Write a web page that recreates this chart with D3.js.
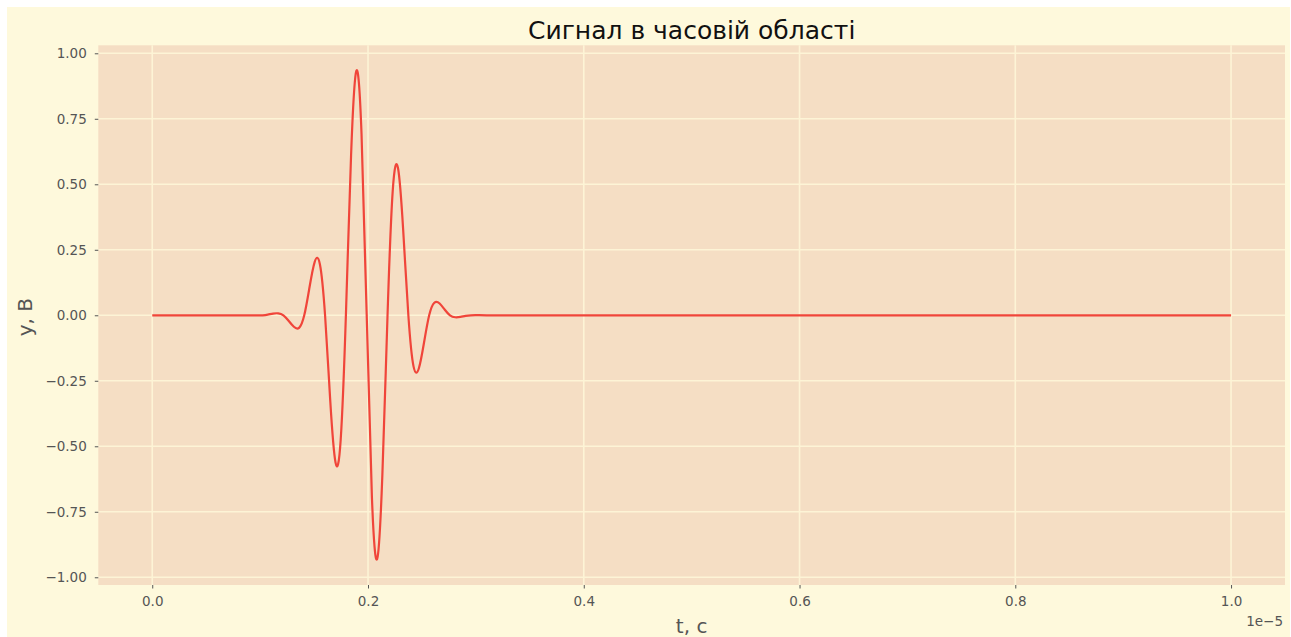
<!DOCTYPE html>
<html>
<head>
<meta charset="utf-8">
<script src="https://cdn.jsdelivr.net/npm/d3@7"></script>
<style>
  html, body { margin: 0; padding: 0; background: #ffffff; }
  svg { display: block; }
  text { font-family: "DejaVu Sans", sans-serif; }
</style>
</head>
<body>
<svg id="chart" width="1291" height="637"></svg>
<script>
// ---- data (t in units of 1e-5 s, y in volts) ----
const tValues = [0.000, 0.020, 0.040, 0.060, 0.080, 0.0927, 0.0975, 0.1023, 0.1071, 0.1120, 0.1168, 0.1216, 0.1264,
  0.1313, 0.1361, 0.1409, 0.1457, 0.1506, 0.1554, 0.1602, 0.1650, 0.1699, 0.1747,
  0.1795, 0.1843, 0.1892, 0.1940, 0.1988, 0.2036, 0.2085, 0.2133, 0.2181, 0.2229,
  0.2278, 0.2326, 0.2374, 0.2422, 0.2471, 0.2519, 0.2567, 0.2615, 0.2664, 0.2712,
  0.2760, 0.2808, 0.2857, 0.2905, 0.2953, 0.3001, 0.310, 0.330, 0.360, 0.400,
  0.500, 0.600, 0.700, 0.800, 0.900, 1.000];
const yValues = [0.000, 0.000, 0.000, 0.000, 0.000, -0.0005, -0.0007, 0.000, 0.0025, 0.0066, 0.0075, 0.000, -0.021,
  -0.044, -0.048, 0.000, 0.105, 0.204, 0.195, 0.000, -0.326, -0.562, -0.474,
  0.000, 0.610, 0.933, 0.692, 0.000, -0.692, -0.930, -0.610, 0.000, 0.474,
  0.562, 0.326, 0.000, -0.195, -0.203, -0.105, 0.000, 0.048, 0.045, 0.021,
  0.000, -0.0075, -0.0062, -0.0025, 0.000, 0.0007, 0.000, 0.000, 0.000, 0.000,
  0.000, 0.000, 0.000, 0.000, 0.000, 0.000];
const xTicks = [0.0, 0.2, 0.4, 0.6, 0.8, 1.0];
const xTickLabels = ["0.0", "0.2", "0.4", "0.6", "0.8", "1.0"];
const yTicks = [-1.00, -0.75, -0.50, -0.25, 0.00, 0.25, 0.50, 0.75, 1.00];
const titleText = "Сигнал в часовій області";
const xLabelText = "t, c";
const yLabelText = "y, B";
const offsetText = "1e\u22125";

const signal = tValues.map((t, i) => ({ t, y: yValues[i] }));

// ---- layout ----
const svg = d3.select("#chart");
const plot = { left: 98.3, right: 1285, top: 45.3, bottom: 585 };

svg.append("rect").attr("x", 7).attr("y", 7).attr("width", 1283).attr("height", 630)
  .attr("fill", "#fef9dc");

const x = d3.scaleLinear().domain([-0.05, 1.05]).range([plot.left, plot.right]);
const y = d3.scaleLinear().domain([-1.0295, 1.0305]).range([plot.bottom, plot.top]);

svg.append("rect")
  .attr("x", plot.left).attr("y", plot.top)
  .attr("width", plot.right - plot.left).attr("height", plot.bottom - plot.top)
  .attr("fill", "#f5dec4");

// grid
const grid = svg.append("g").attr("stroke", "#fdf4d6").attr("stroke-width", 1.6);
grid.selectAll("line.gx").data(xTicks).join("line")
  .attr("x1", d => x(d)).attr("x2", d => x(d))
  .attr("y1", plot.top).attr("y2", plot.bottom);
grid.selectAll("line.gy").data(yTicks).join("line")
  .attr("y1", d => y(d)).attr("y2", d => y(d))
  .attr("x1", plot.left).attr("x2", plot.right);

// axes
const xAxis = d3.axisBottom(x).tickValues(xTicks)
  .tickFormat((d, i) => xTickLabels[i]).tickSize(3.5).tickPadding(8);
const yAxis = d3.axisLeft(y).tickValues(yTicks)
  .tickFormat(d => d3.format(".2f")(d).replace("-", "\u2212")).tickSize(3.5).tickPadding(8);

const gx = svg.append("g").attr("transform", `translate(0,${plot.bottom})`).call(xAxis);
const gy = svg.append("g").attr("transform", `translate(${plot.left},0)`).call(yAxis);
[gx, gy].forEach(g => {
  g.select(".domain").remove();
  g.selectAll(".tick line").attr("stroke", "#555555").attr("stroke-width", 1);
  g.selectAll(".tick text").attr("fill", "#555555").attr("font-size", 13.5)
    .attr("font-family", "DejaVu Sans, sans-serif");
});

// signal line
const line = d3.line().x(d => x(d.t)).y(d => y(d.y)).curve(d3.curveNatural);
svg.append("path").datum(signal)
  .attr("d", line)
  .attr("fill", "none")
  .attr("stroke", "#f0453a")
  .attr("stroke-width", 2.2)
  .attr("stroke-linejoin", "round");

// title & labels
svg.append("text").attr("x", (plot.left + plot.right) / 2).attr("y", 39)
  .attr("text-anchor", "middle").attr("font-size", 25).attr("fill", "#111")
  .text(titleText);
svg.append("text").attr("x", (plot.left + plot.right) / 2).attr("y", 633)
  .attr("text-anchor", "middle").attr("font-size", 20).attr("fill", "#555555")
  .text(xLabelText);
svg.append("text").attr("transform", `translate(32,${(plot.top + plot.bottom) / 2 + 2}) rotate(-90)`)
  .attr("text-anchor", "middle").attr("font-size", 20).attr("fill", "#555555")
  .text(yLabelText);
svg.append("text").attr("x", plot.right - 2).attr("y", 626)
  .attr("text-anchor", "end").attr("font-size", 13.5).attr("fill", "#555555")
  .text(offsetText);
</script>
</body>
</html>
